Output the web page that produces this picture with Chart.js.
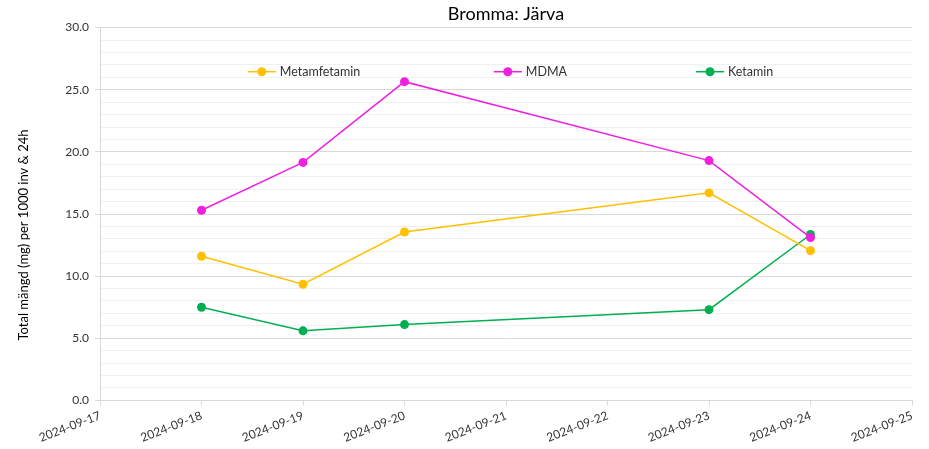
<!DOCTYPE html>
<html>
<head>
<meta charset="utf-8">
<script src="https://cdn.jsdelivr.net/npm/chart.js@4/dist/chart.umd.min.js"></script>
<style>
  html, body { margin: 0; padding: 0; background: #fff; }
  #wrap { width: 929px; height: 449px; }
</style>
</head>
<body>
<div id="wrap"><canvas id="grafico"></canvas></div>
<script>
// datum på x-axeln (inkl. dagar utan prov)
const datum = ['2024-09-17', '2024-09-18', '2024-09-19', '2024-09-20', '2024-09-21',
               '2024-09-22', '2024-09-23', '2024-09-24', '2024-09-25'];

// mängd per substans (null = inget prov)
const metamfetamin = [null, 11.6, 9.35, 13.55, null, null, 16.7, 12.05, null];
const mdma         = [null, 15.3, 19.15, 25.65, null, null, 19.3, 13.1, null];
const ketamin      = [null, 7.5, 5.6, 6.1, null, null, 7.3, 13.35, null];

const yTicks = { min: 0, max: 30, major: 5, minor: 1 };
const yTitel = 'Total mängd (mg) per 1000 inv & 24h';

const FONT = 'Lato, "Noto Sans", sans-serif';

// legend inne i ritytan: linje + punkt + text
const legendPos = [0.182, 0.485, 0.734];
const inlineLegend = {
  id: 'inlineLegend',
  afterDraw(chart) {
    const ctx = chart.ctx;
    const area = chart.chartArea;
    const y = chart.scales.y.getPixelForValue(26.45);
    chart.data.datasets.forEach((ds, i) => {
      const x = area.left + area.width * legendPos[i];
      ctx.save();
      ctx.strokeStyle = ds.borderColor;
      ctx.lineWidth = 1.5;
      ctx.beginPath();
      ctx.moveTo(x, y);
      ctx.lineTo(x + 28, y);
      ctx.stroke();
      ctx.fillStyle = ds.backgroundColor;
      ctx.beginPath();
      ctx.arc(x + 14, y, 4.5, 0, Math.PI * 2);
      ctx.fill();
      ctx.fillStyle = '#333';
      ctx.font = '12.5px ' + FONT;
      ctx.textBaseline = 'middle';
      ctx.fillText(ds.label, x + 32, y);
      ctx.restore();
    });
  }
};

// y-axelns titel (lite nedflyttad, som i Excel)
const yAxisTitle = {
  id: 'yAxisTitle',
  afterDraw(chart) {
    const ctx = chart.ctx;
    const area = chart.chartArea;
    ctx.save();
    ctx.translate(24, (area.top + area.bottom) / 2 + 21);
    ctx.rotate(-Math.PI / 2);
    ctx.fillStyle = '#000';
    ctx.font = '13px ' + FONT;
    ctx.textAlign = 'center';
    ctx.textBaseline = 'middle';
    ctx.fillText(yTitel, 0, 0);
    ctx.restore();
  }
};

function serie(label, data, color) {
  return {
    label: label,
    data: data,
    borderColor: color,
    backgroundColor: color,
    borderWidth: 1.5,
    pointRadius: 4.5,
    pointHoverRadius: 5,
    pointBorderWidth: 0,
    spanGaps: true,
    tension: 0
  };
}

const ctx = document.getElementById('grafico').getContext('2d');
const myChart = new Chart(ctx, {
  type: 'line',
  data: {
    labels: datum,
    datasets: [
      serie('Metamfetamin', metamfetamin, '#ffc000'),
      serie('MDMA', mdma, '#f020e0'),
      serie('Ketamin', ketamin, '#00b050')
    ]
  },
  options: {
    responsive: true,
    maintainAspectRatio: false,
    animation: false,
    layout: { padding: { left: 48, right: 17, top: 1, bottom: 1 } },
    plugins: {
      legend: { display: false },
      tooltip: { enabled: false },
      title: {
        display: true,
        text: 'Bromma: Järva',
        fullSize: false,
        color: '#000',
        font: { family: FONT, size: 18, weight: 'normal' },
        padding: { top: 2, bottom: 3 }
      }
    },
    scales: {
      x: {
        offset: false,
        grid: {
          drawOnChartArea: false,
          drawTicks: true,
          tickLength: 5,
          tickColor: '#d9d9d9'
        },
        border: { color: '#d9d9d9', width: 1 },
        ticks: {
          color: '#333',
          font: { family: FONT, size: 12 },
          minRotation: 21,
          maxRotation: 21,
          autoSkip: false,
          padding: 3
        }
      },
      y: {
        min: yTicks.min,
        max: yTicks.max,
        afterFit: s => { s.width = 52; },
        border: { color: '#d9d9d9', width: 1 },
        grid: {
          color: c => (c.tick.value % yTicks.major === 0 ? '#d9d9d9' : '#f0f0f0'),
          tickColor: c => (c.tick.value % yTicks.major === 0 ? '#d9d9d9' : 'rgba(0,0,0,0)'),
          tickLength: 5,
          lineWidth: 1
        },
        ticks: {
          stepSize: yTicks.minor,
          autoSkip: false,
          color: '#333',
          font: { family: FONT, size: 12 },
          padding: 6,
          callback: v => (v % yTicks.major === 0 ? v.toFixed(1) : '')
        }
      }
    }
  },
  plugins: [inlineLegend, yAxisTitle]
});
</script>
</body>
</html>
